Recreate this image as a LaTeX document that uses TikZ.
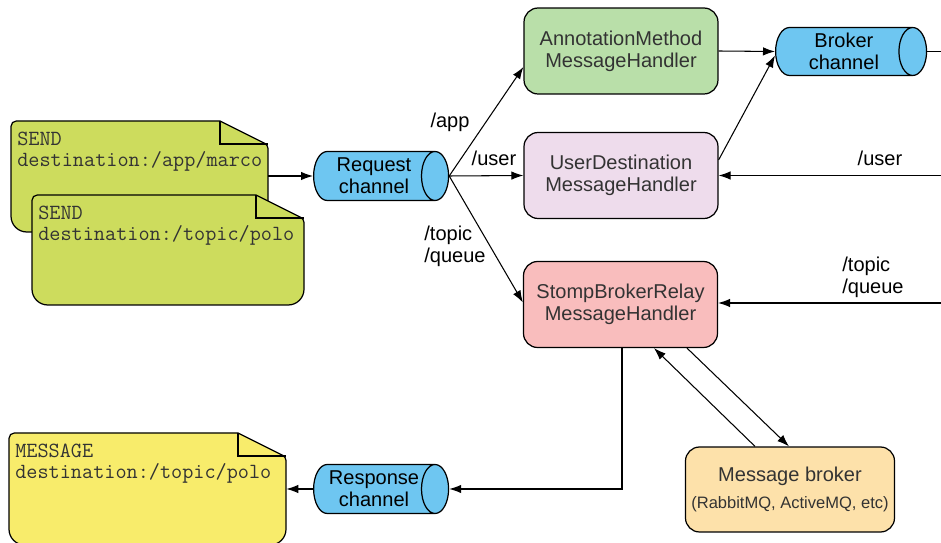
\documentclass[tikz,border=0pt]{standalone}
\usepackage{fontspec}
\setmainfont{Liberation Sans}
\usepackage{tikz}
\usetikzlibrary{arrows.meta,positioning,calc,shapes.geometric,fit}
\definecolor{sendgreen}{RGB}{205,220,93}
\definecolor{msgyellow}{RGB}{248,236,107}
\definecolor{chanblue}{RGB}{110,198,241}
\definecolor{annogreen}{RGB}{185,223,169}
\definecolor{userlilac}{RGB}{238,220,236}
\definecolor{relaypink}{RGB}{249,189,189}
\definecolor{brokerorange}{RGB}{253,225,170}
\definecolor{txtgrey}{RGB}{51,51,51}
\newcommand{\hdlfont}{\fontsize{11.4}{12.6}\selectfont}
\newcommand{\smallhdlfont}{\fontsize{9.4}{11}\selectfont}
% folded note: name, x1, y1, x2, y2, colour, text
\newcommand{\stompnote}[7]{%
  \draw[notebox,fill=#6] (#2,{#3+40}) [rounded corners=3pt] -- (#2,#3) [sharp corners] -- ({#4-48},#3)
    [rounded corners=2pt] -- (#4,{#3+24}) [rounded corners=9pt] -- (#4,#5) -- (#2,#5) [sharp corners] -- cycle;
  \draw[notebox] ({#4-48},#3) -- ({#4-48},{#3+23}) -- (#4,{#3+23});
  \node[inner sep=0pt,fit={(#2,#3) (#4,#5)}] (#1) {};
  \node[notetext] (#1-txt) at ({#2+6},{#3+11}) {#7};
}

\begin{document}
\begin{tikzpicture}[x=0.02cm,y=-0.02cm,
  notebox/.style={draw=black,line width=0.7pt},
  notetext/.style={anchor=north west,inner sep=0pt,align=left,text=txtgrey,font=\ttfamily\fontsize{12.3}{12}\selectfont},
  hdl/.style={draw=black,line width=0.7pt,rounded corners=8pt,minimum width=3.88cm,minimum height=1.72cm,align=center,text=txtgrey,font=\hdlfont},
  chan/.style={cylinder,shape aspect=0.75,draw=black,line width=0.7pt,fill=chanblue,minimum height=2.7cm,minimum width=0.98cm,align=center,inner sep=0pt,font=\hdlfont,anchor=west},
  lbl/.style={align=left,font=\hdlfont,inner sep=0pt},
  arr/.style={-{Latex[length=2.4mm,width=1.7mm]},line width=0.6pt}]
  \useasboundingbox (0,0) rectangle (941,543);

  % notes
  \stompnote{send1}{11}{121}{268}{232}{sendgreen}{SEND\\destination:/app/marco}
  \stompnote{send2}{32}{195}{304}{305}{sendgreen}{SEND\\destination:/topic/polo}
  \stompnote{msg}{9}{433}{286}{545}{msgyellow}{MESSAGE\\destination:/topic/polo}

  % channels
  \node[chan] (req) at (313,176) {Request\\channel};
  \node[chan] (resp) at (313,489) {Response\\channel};
  \node[chan,minimum height=3.02cm,minimum width=0.96cm] (brk) at (775,51.5) {Broker\\channel};

  % handlers
  \node[hdl,fill=annogreen] (anno) at (621,51) {AnnotationMethod\\MessageHandler};
  \node[hdl,fill=userlilac] (user) at (621,175.5) {UserDestination\\MessageHandler};
  \node[hdl,fill=relaypink] (stomp) at (620.5,304.5) {StompBrokerRelay\\MessageHandler};
  \node[hdl,fill=brokerorange,minimum width=4.16cm,minimum height=1.7cm] (mb) at (790,489.5)
    {Message broker\\[3pt]{\smallhdlfont(RabbitMQ, ActiveMQ, etc)}};

  % free ends at the right border
  \coordinate (brkout) at (941,51.5);
  \coordinate (userin) at (941,175.5);
  \coordinate (topicin) at (941,303);

  % labels
  \node[lbl] (lapp) at (450,122) {/app};
  \node[lbl] (luser) at (494,158) {/user};
  \node[lbl] (ltopic) at (455,246) {/topic\\/queue};
  \node[lbl] (luserin) at (880,158) {/user};
  \node[lbl] (ltopicin) at (873,277) {/topic\\/queue};

  % connectors
  \draw[arr] (send1.east |- req) -- (req.west);
  \draw[arr] (req.east) -- ([yshift=-0.32cm]anno.west);
  \draw[arr] (req.east) -- (user.west);
  \draw[arr] (req.east) -- ([yshift=0.04cm]stomp.west);
  \draw[arr] (anno.east) -- (brk.west);
  \draw[arr] ([yshift=0.31cm]user.east) -- ([yshift=-0.08cm]brk.west);
  \draw (brk.east) -- (brkout);
  \draw[arr] (userin) -- (user.east);
  \draw[arr] (topicin) -- (stomp.east |- topicin);
  \draw[arr] ([xshift=0.03cm]stomp.south) |- (resp.east);
  \draw[arr] (resp.west) -- (msg.east);
  \draw[arr] ([xshift=-0.7cm]mb.north) -- ([xshift=0.67cm]stomp.south);
  \draw[arr] ([xshift=1.33cm]stomp.south) -- ([xshift=-0.02cm]mb.north);
\end{tikzpicture}
\end{document}
